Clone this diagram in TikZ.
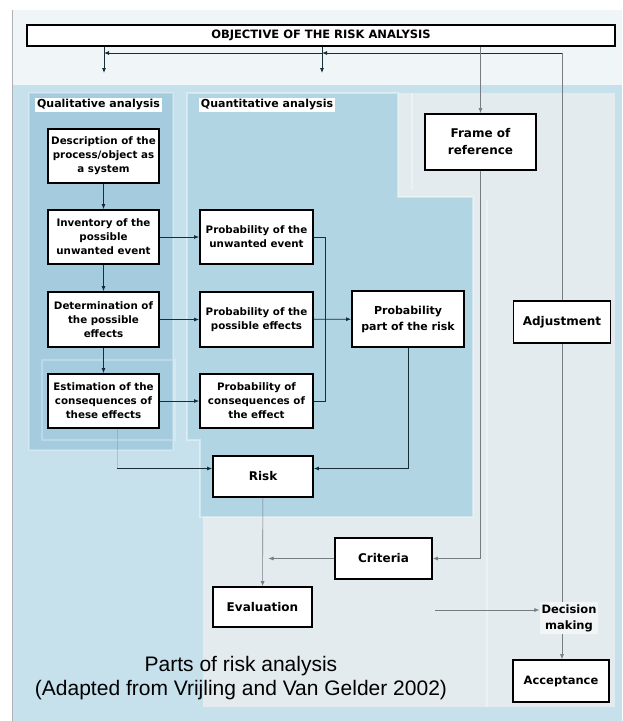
\documentclass[tikz,border=0pt]{standalone}
\usepackage{fontspec}
\setmainfont{DejaVu Sans}
\newfontfamily\capfont{Liberation Sans}
\usetikzlibrary{arrows.meta}
\definecolor{bgblue}{RGB}{198,225,235}
\definecolor{qlblue}{RGB}{165,204,222}
\definecolor{qnblue}{RGB}{178,213,227}
\definecolor{panelgrey}{RGB}{228,235,238}
\definecolor{pale}{RGB}{240,245,247}
\definecolor{ink}{RGB}{25,45,55}
\definecolor{guidegrey}{RGB}{115,125,130}

\begin{document}
\begin{tikzpicture}[x=1pt,y=-1pt,
  box/.style={draw=black,line width=1.8pt,fill=white,align=center,inner sep=0pt,
    minimum width=111pt,minimum height=54pt,font=\fontsize{10.3}{14}\selectfont\bfseries},
  bigbox/.style={box,font=\fontsize{12}{17}\selectfont\bfseries},
  label/.style={fill=white,inner sep=2pt,font=\fontsize{11}{13}\selectfont\bfseries},
  link/.style={draw=ink,line width=.8pt},
  guide/.style={draw=guidegrey,line width=.6pt},
  tip/.style={-{Latex[length=5pt,width=4pt]}}]
\useasboundingbox (0,0) rectangle (622,721);
% background and panels
\fill[white] (0,0) rectangle (622,721);
\fill[pale] (12,10) rectangle (622,721);
\fill[bgblue] (12,85) rectangle (622,721);
\draw[guidegrey!60,line width=.8pt] (12,10) -- (12,721);
\fill[panelgrey] (398,93) rectangle (615,707);
\fill[panelgrey] (203,497) rectangle (615,707);
\draw[white,opacity=.35,line width=1.5pt] (412,93) -- (412,190) (487,200) -- (487,707);
\fill[qlblue] (29,93) rectangle (173,450);
\draw[white,opacity=.25,line width=2pt] (29,93) rectangle (173,450) (42,360) rectangle (175,440);
\filldraw[fill=qnblue,draw=white,draw opacity=.4,line width=2pt] (187,93) -- (398,93) -- (398,197) -- (473,197)
  -- (473,517) -- (200,517) -- (200,440) -- (187,440) -- cycle;
\node[label] (qllabel) at (98.5,105) {Qualitative analysis};
\node[label] (qnlabel) at (267,105) {Quantitative analysis};
% boxes
\node[box,minimum width=588pt,minimum height=21pt,font=\fontsize{11.5}{13}\selectfont\bfseries] (obj) at (321,35.5) {OBJECTIVE OF THE RISK ANALYSIS};
\node[box] (desc) at (103.5,156) {Description of the\\process/object as\\a system};
\node[box] (inv) at (103.5,237) {Inventory of the\\possible\\unwanted event};
\node[box,minimum height=55pt] (det) at (103.5,319.5) {Determination of\\the possible\\effects};
\node[box] (est) at (103.5,401) {Estimation of the\\consequences of\\these effects};
\node[box,minimum width=113pt] (pue) at (256.5,237) {Probability of the\\unwanted event};
\node[box,minimum width=113pt,minimum height=55pt] (ppe) at (256.5,319.5) {Probability of the\\possible effects};
\node[box,minimum width=113pt] (pce) at (256.5,401) {Probability of\\consequences of\\the effect};
\node[bigbox,minimum width=112pt,minimum height=56pt,font=\fontsize{11}{16}\selectfont\bfseries] (ppr) at (408,319) {Probability\\part of the risk};
\node[bigbox,minimum width=100pt,minimum height=41pt] (risk) at (263,476.5) {Risk};
\node[bigbox,minimum width=111pt,minimum height=56pt] (frame) at (480.5,142) {Frame of\\reference};
\node[bigbox,minimum width=97pt,minimum height=42pt] (adj) at (562,322) {Adjustment};
\node[bigbox,minimum width=97pt,minimum height=41pt] (crit) at (383.5,558.5) {Criteria};
\node[bigbox,minimum width=99pt,minimum height=40pt] (eval) at (262.5,607) {Evaluation};
\node[fill=white!50!panelgrey,align=center,inner sep=2pt,font=\fontsize{11.5}{16}\selectfont\bfseries] (dec) at (569,618) {Decision\\making};
\node[bigbox,minimum width=96pt,minimum height=42pt,font=\fontsize{11.5}{14}\selectfont\bfseries] (acc) at (561,681) {Acceptance};
\node[font=\capfont\fontsize{21}{24}\selectfont,align=center] (cap) at (241,678) {Parts of risk analysis\\(Adapted from Vrijling and Van Gelder 2002)};
% connectors
\coordinate (barl) at (104,53);
\coordinate (bar) at (322,53);
\coordinate (qlin) at (104,73);
\coordinate (qnin) at (322,73);
\draw[link,tip] (obj.south -| qlin) -- (qlin);
\draw[link,tip] (obj.south -| qnin) -- (qnin);
\draw[guide] (adj.north) -- (adj.north |- bar);
\draw[link,tip] (adj.north |- bar) -- (bar);
\draw[link,tip] (bar) -- (barl);
\draw[guide,tip] (frame.north |- obj.south) -- (frame.north);
\draw[link,tip] (desc) -- (inv);
\draw[link,tip] (inv) -- (det);
\draw[link,tip] (det) -- (est);
\draw[link,tip] (inv) -- (pue);
\draw[link,tip] (det) -- (ppe);
\draw[link,tip] (est) -- (pce);
\coordinate (coll) at (325,237);
\draw[link] (pue.east) -- (coll) -- (coll |- pce.east) -- (pce.east);
\draw[link,tip] (ppe) -- (ppr);
\draw[link,tip] (ppr.south) |- ([yshift=8pt]risk.east);
\coordinate (qlout) at (117,468.5);
\draw[guide,opacity=.3] (est.south -| qlout) -- (qlout);
\draw[link,tip] (qlout) -- ([yshift=8pt]risk.west);
\draw[guide,tip] (risk) -- (eval);
\draw[guide,tip] (crit.west) -- ([xshift=6pt]crit.west -| eval.north);
\draw[guide,tip] (frame.south) |- (crit.east);
\coordinate (evtail) at (435,610);
\draw[guide,tip] (evtail) -- ([yshift=8pt]dec.west);
\draw[guide] (adj.south) -- (adj.south |- dec.north);
\draw[guide,tip] (dec.south -| adj.south) -- (acc.north -| adj.south);
\end{tikzpicture}
\end{document}
